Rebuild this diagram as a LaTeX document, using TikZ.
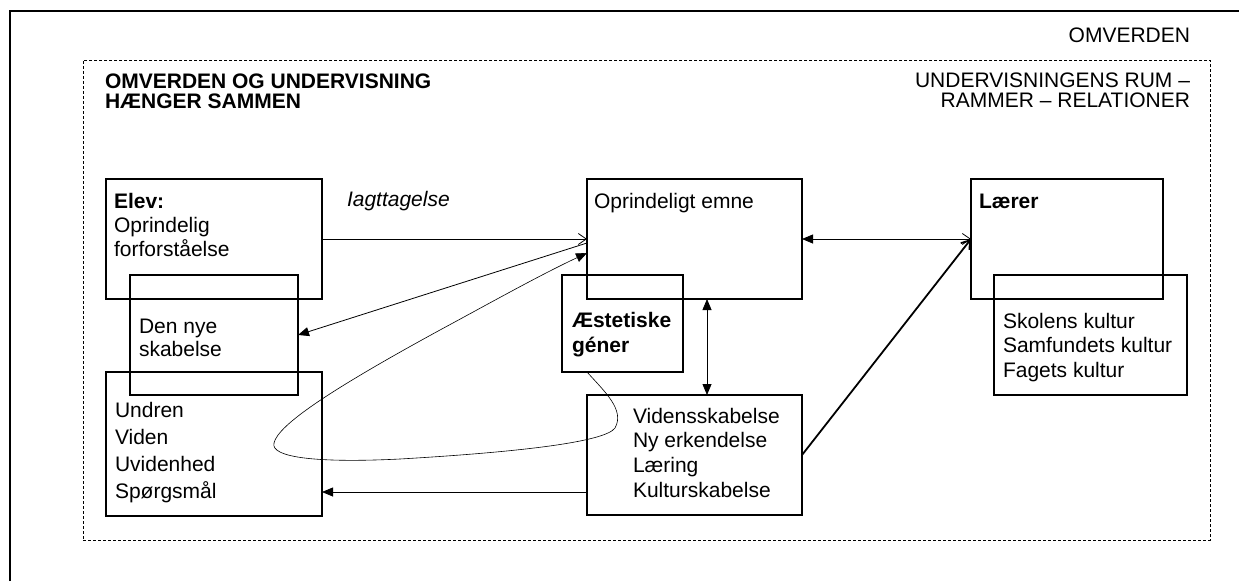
\documentclass[tikz,border=0pt]{standalone}
\usepackage{fontspec}
\setmainfont{Liberation Sans}
\usetikzlibrary{arrows.meta,calc}
\begin{document}
\begin{tikzpicture}[x=1pt,y=-1pt,
  box/.style={draw, line width=1.1pt, rectangle, inner sep=0pt, outer sep=0pt, anchor=north west},
  txt/.style={anchor=north west, inner sep=0pt, outer sep=0pt, align=left},
  big/.style={font=\fontsize{21}{#1}\selectfont},
  link/.style={line width=0.8pt},
  thin/.style={line width=0.6pt},
  fillhead/.tip={Triangle[length=11pt,width=9pt]},
  openhead/.tip={Straight Barb[length=8pt,width=11pt]}
]
\useasboundingbox (0,0) rectangle (1239,581);
\fill[white] (0,0) rectangle (1239,581);

% outer frame (the world around)
\draw[line width=2pt] (10,581) -- (10,11) -- (1239,11);
\node[txt, anchor=north east, big=24] (omv) at (1190,26) {\rule{0pt}{16pt}OMVERDEN};

% dashed frame: the room of teaching
\node[box, draw, line width=0.7pt, dash pattern=on 3pt off 2pt,
      minimum width=1127pt, minimum height=480pt] (rum) at (83,60) {};
\node[txt, big=20] (titel) at (105,72)
  {\rule{0pt}{16pt}\textbf{OMVERDEN OG UNDERVISNING}\\\textbf{HÆNGER SAMMEN}};
\node[txt, anchor=north east, align=right, big=20] (rumtxt) at (1190,71)
  {\rule{0pt}{16pt}UNDERVISNINGENS RUM –\\RAMMER – RELATIONER};

% boxes
\node[box, minimum width=216pt, minimum height=120pt] (elev)   at (106,179) {};
\node[box, minimum width=168pt, minimum height=120pt] (nye)    at (130,275) {};
\node[box, minimum width=216pt, minimum height=144pt] (undren) at (106,372) {};
\node[box, minimum width=215pt, minimum height=120pt] (emne)   at (587,179) {};
\node[box, minimum width=121pt, minimum height=97pt]  (aest)   at (562,275) {};
\node[box, minimum width=215pt, minimum height=120pt] (viden)  at (587,395) {};
\node[box, minimum width=192pt, minimum height=120pt] (laerer) at (971,179) {};
\node[box, minimum width=193pt, minimum height=120pt] (kultur) at (994,275) {};

% box texts
\node[txt, big=24]   (elevtxt)   at (114,192) {\rule{0pt}{16pt}\textbf{Elev:}\\Oprindelig\\forforståelse};
\node[txt, big=23]   (nyetxt)    at (139,317) {\rule{0pt}{16pt}Den nye\\skabelse};
\node[txt, big=27.3] (undrentxt) at (115,401) {\rule{0pt}{16pt}Undren\\Viden\\Uvidenhed\\Spørgsmål};
\node[txt, big=24]   (emnetxt)   at (594,192) {\rule{0pt}{16pt}Oprindeligt emne};
\node[txt, big=25]   (aesttxt)   at (572,311) {\rule{0pt}{16pt}\textbf{Æstetiske}\\\textbf{géner}};
\node[txt, big=24.8] (videntxt)  at (633,407) {\rule{0pt}{16pt}Vidensskabelse\\Ny erkendelse\\Læring\\Kulturskabelse};
\node[txt, big=24]   (laerertxt) at (979,192) {\rule{0pt}{16pt}\textbf{Lærer}};
\node[txt, big=24.5] (kulturtxt) at (1003,312) {\rule{0pt}{16pt}Skolens kultur\\Samfundets kultur\\Fagets kultur};
\node[txt, big=24]   (iagt)      at (347,190) {\rule{0pt}{16pt}\textit{Iagttagelse}};

% connectors
\draw[link, -openhead] (elev.east) -- (emne.west);
\draw[link, -fillhead] ([yshift=-4pt]emne.west) -- (nye.east);
\draw[link, fillhead-openhead] (emne.east) -- (laerer.west);
\draw[link, fillhead-fillhead] ([xshift=12.5pt]emne.south) -- ([xshift=12.5pt]viden.north);
\draw[link, -fillhead] ([yshift=-37pt]viden.west) -- ([yshift=-37pt]viden.west -| undren.east);
\draw[line width=1.8pt, -openhead] (viden.east) -- (laerer.west);
\draw[thin, -fillhead] (emne.west |- aest.south)
  .. controls (605,392) and (625,410) .. (615,428)
  .. controls (605,442) and (520,452) .. (400,459)
  .. controls (320,463) and (270,458) .. (274,443)
  .. controls (278,425) and (330,390) .. (440,330)
  .. controls (490,303) and (540,275) .. ([yshift=-14pt]emne.west);
\end{tikzpicture}
\end{document}
